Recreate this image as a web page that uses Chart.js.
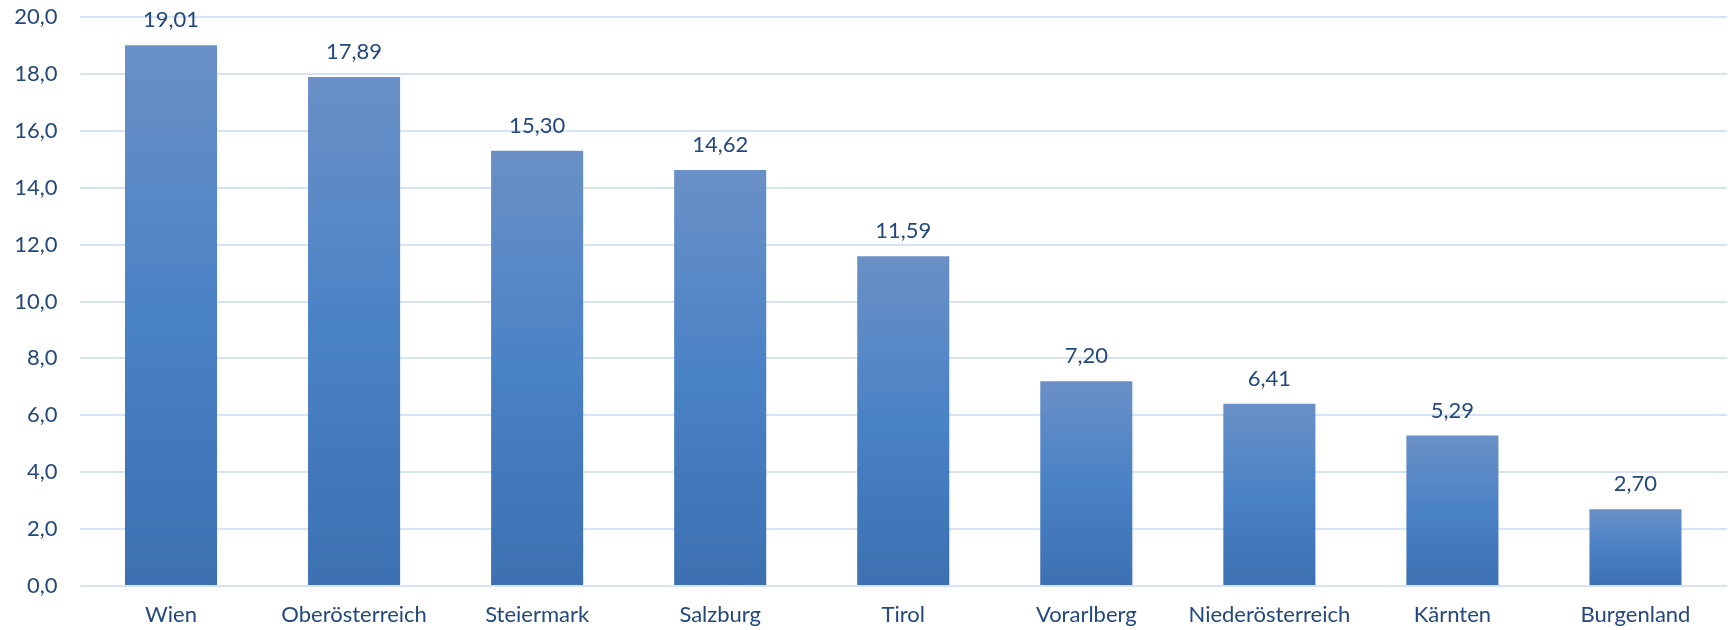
<!DOCTYPE html>
<html>
<head>
<meta charset="utf-8">
<script src="https://cdn.jsdelivr.net/npm/chart.js@4.4.1/dist/chart.umd.min.js"></script>
<style>
  html, body { margin: 0; padding: 0; background: #ffffff; }
  #wrap { width: 1731px; height: 630px; position: relative; }
</style>
</head>
<body>
<div id="wrap"><canvas id="c" width="1731" height="630"></canvas></div>
<script>
const categories = ["Wien", "Oberösterreich", "Steiermark", "Salzburg", "Tirol", "Vorarlberg", "Niederösterreich", "Kärnten", "Burgenland"];
const values = [19.01, 17.89, 15.30, 14.62, 11.59, 7.20, 6.41, 5.29, 2.70];
const yMin = 0;
const yMax = 20;
const yStep = 2;

const textColor = '#24487c';
const fontFamily = 'Lato, "Open Sans", "DejaVu Sans", sans-serif';
const fontSize = 22;

function fmt(v, d) { return v.toFixed(d).replace('.', ','); }

function barGradient(ctx) {
  const chart = ctx.chart;
  const ys = chart.scales && chart.scales.y;
  if (!chart.chartArea || !ys || ctx.raw === undefined) return '#4a7fc0';
  const top = ys.getPixelForValue(ctx.raw);
  const bottom = ys.getPixelForValue(0);
  if (!isFinite(top) || !isFinite(bottom) || top === bottom) return '#4a7fc0';
  const g = chart.ctx.createLinearGradient(0, top, 0, bottom);
  g.addColorStop(0, '#6a90c6');
  g.addColorStop(0.5, '#4a82c6');
  g.addColorStop(1, '#3c70b1');
  return g;
}

const labelPlugin = {
  id: 'valueLabels',
  afterDatasetsDraw(chart) {
    const c = chart.ctx;
    const meta = chart.getDatasetMeta(0);
    c.save();
    c.font = fontSize + 'px ' + fontFamily;
    c.fillStyle = textColor;
    c.textAlign = 'center';
    c.textBaseline = 'middle';
    meta.data.forEach((el, i) => {
      c.fillText(fmt(values[i], 2), el.x, el.y - 25);
    });
    c.restore();
  }
};

new Chart(document.getElementById('c'), {
  type: 'bar',
  data: {
    labels: categories,
    datasets: [{
      data: values,
      backgroundColor: barGradient,
      borderWidth: 0,
      barPercentage: 1,
      categoryPercentage: 0.503
    }]
  },
  options: {
    responsive: false,
    animation: false,
    devicePixelRatio: 1,
    layout: { padding: { top: 17, right: 4, bottom: 0, left: 0 } },
    plugins: { legend: { display: false }, tooltip: { enabled: false } },
    scales: {
      x: {
        grid: { display: false, drawTicks: false },
        border: { display: false },
        ticks: {
          color: textColor,
          font: { family: fontFamily, size: fontSize },
          padding: 16,
          maxRotation: 0,
          autoSkip: false
        },
        afterFit(s) { s.height = 44; }
      },
      y: {
        min: yMin, max: yMax,
        grid: { color: '#d8e3f2', lineWidth: 2, drawTicks: false },
        border: { display: false },
        ticks: {
          stepSize: yStep,
          color: textColor,
          font: { family: fontFamily, size: fontSize },
          padding: 22,
          callback: (v) => fmt(v, 1)
        },
        afterFit(s) { s.width = 79.5; s.paddingTop = 0; s.paddingBottom = 0; }
      }
    }
  },
  plugins: [labelPlugin]
});
</script>
</body>
</html>
